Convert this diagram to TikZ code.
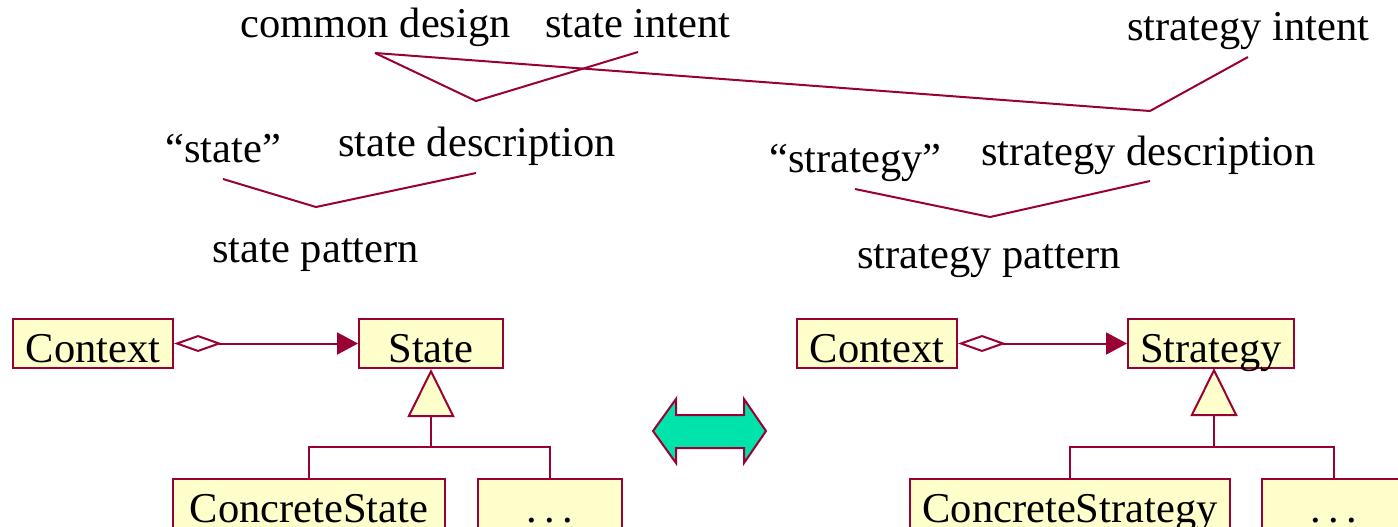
\documentclass[tikz,border=0pt]{standalone}
\usepackage{fontspec}
\setmainfont{Liberation Serif}
\usetikzlibrary{arrows.meta}

\definecolor{umlline}{RGB}{153,0,51}
\definecolor{umlfill}{RGB}{255,255,204}
\definecolor{swapfill}{RGB}{0,227,170}

\newcommand{\spreaddots}{.\kern3.7pt.\kern3.7pt.}

\tikzset{
  label text/.style={anchor=base west, inner sep=0pt, font=\fontsize{21.25pt}{25pt}\selectfont},
  classbox/.style={draw=umlline, fill=umlfill, line width=1pt, inner sep=0pt,
    minimum height=24.5pt, text height=18.5pt, text depth=0pt,
    font=\fontsize{21.25pt}{25pt}\selectfont},
  link/.style={draw=umlline, line width=1pt},
  assoc/.style={link, {Diamond[open, length=24pt, width=8.5pt]}-{Triangle[length=10.5pt, width=11pt, fill=umlline]}},
  inherit/.style={link, -{Triangle[length=24pt, width=23.5pt, fill=umlfill]}},
}

\begin{document}
\begin{tikzpicture}[x=0.5pt, y=-0.5pt]
  \useasboundingbox (0,0) rectangle (1398,526);
  \clip (0,0) rectangle (1398,526);

  % labels of the composition tree
  \node[label text] (cd)  at (240,37)  {common design};
  \node[label text] (si)  at (545,37)  {state intent};
  \node[label text] (sti) at (1127,40) {strategy intent};
  \node[label text] (qs)  at (165,162) {“state”};
  \node[label text] (sd)  at (338,156) {state description};
  \node[label text] (sp)  at (212,262) {state pattern};
  \node[label text] (qst) at (769,172) {“strategy”};
  \node[label text] (std) at (981,165) {strategy description};
  \node[label text] (stp) at (857,268) {strategy pattern};

  % joining points of the tree branches
  \coordinate (cdFoot)  at (375,53);
  \coordinate (siFoot)  at (638,52);
  \coordinate (stiFoot) at (1248,57);
  \coordinate (sdJoin)  at (476,101);
  \coordinate (stdJoin) at (1150,111);
  \coordinate (qsFoot)  at (223,179);
  \coordinate (sdFoot)  at (476,173);
  \coordinate (spJoin)  at (316,207);
  \coordinate (qstFoot) at (855,189);
  \coordinate (stdFoot) at (1150,181);
  \coordinate (stpJoin) at (990,217);

  \draw[link] (cdFoot) -- (sdJoin) -- (siFoot);
  \draw[link] (cdFoot) -- (stdJoin) -- (stiFoot);
  \draw[link] (qsFoot) -- (spJoin) -- (sdFoot);
  \draw[link] (qstFoot) -- (stpJoin) -- (stdFoot);

  % state pattern classes
  \node[classbox, minimum width=80pt] (ctxL)  at (93,343.5)  {Context};
  \node[classbox, minimum width=72pt] (stB)   at (431,343.5) {State};
  \node[classbox, minimum width=136pt] (cstB) at (309,503.5) {ConcreteState};
  \node[classbox, minimum width=72pt] (dotL)  at (550,503.5) {\spreaddots};

  \draw[assoc] (ctxL.east) -- (stB.west);
  \coordinate (jL) at (431,447);
  \draw[link] (cstB.north) |- (jL) -| (dotL.north);
  \draw[inherit] (jL) -- (stB.south);

  % strategy pattern classes
  \node[classbox, minimum width=80pt] (ctxR)  at (877,343.5)  {Context};
  \node[classbox, minimum width=83pt] (sgB)   at (1211,343.5) {Strategy};
  \node[classbox, minimum width=160pt] (csgB) at (1070,503.5) {ConcreteStrategy};
  \node[classbox, minimum width=72pt] (dotR)  at (1334,503.5) {\spreaddots};

  \draw[assoc] (ctxR.east) -- (sgB.west);
  \coordinate (jR) at (1214,447);
  \draw[link] (csgB.north) |- (jR) -| (dotR.north);
  \draw[inherit] (jR) -- (1214,368);

  % double arrow between the two patterns
  \draw[draw=umlline, fill=swapfill, line width=1pt, line join=miter]
    (653,431) -- (676,399) -- (676,415) -- (744,415) -- (744,399) -- (766,431)
    -- (744,463) -- (744,448) -- (676,448) -- (676,463) -- cycle;
\end{tikzpicture}
\end{document}
